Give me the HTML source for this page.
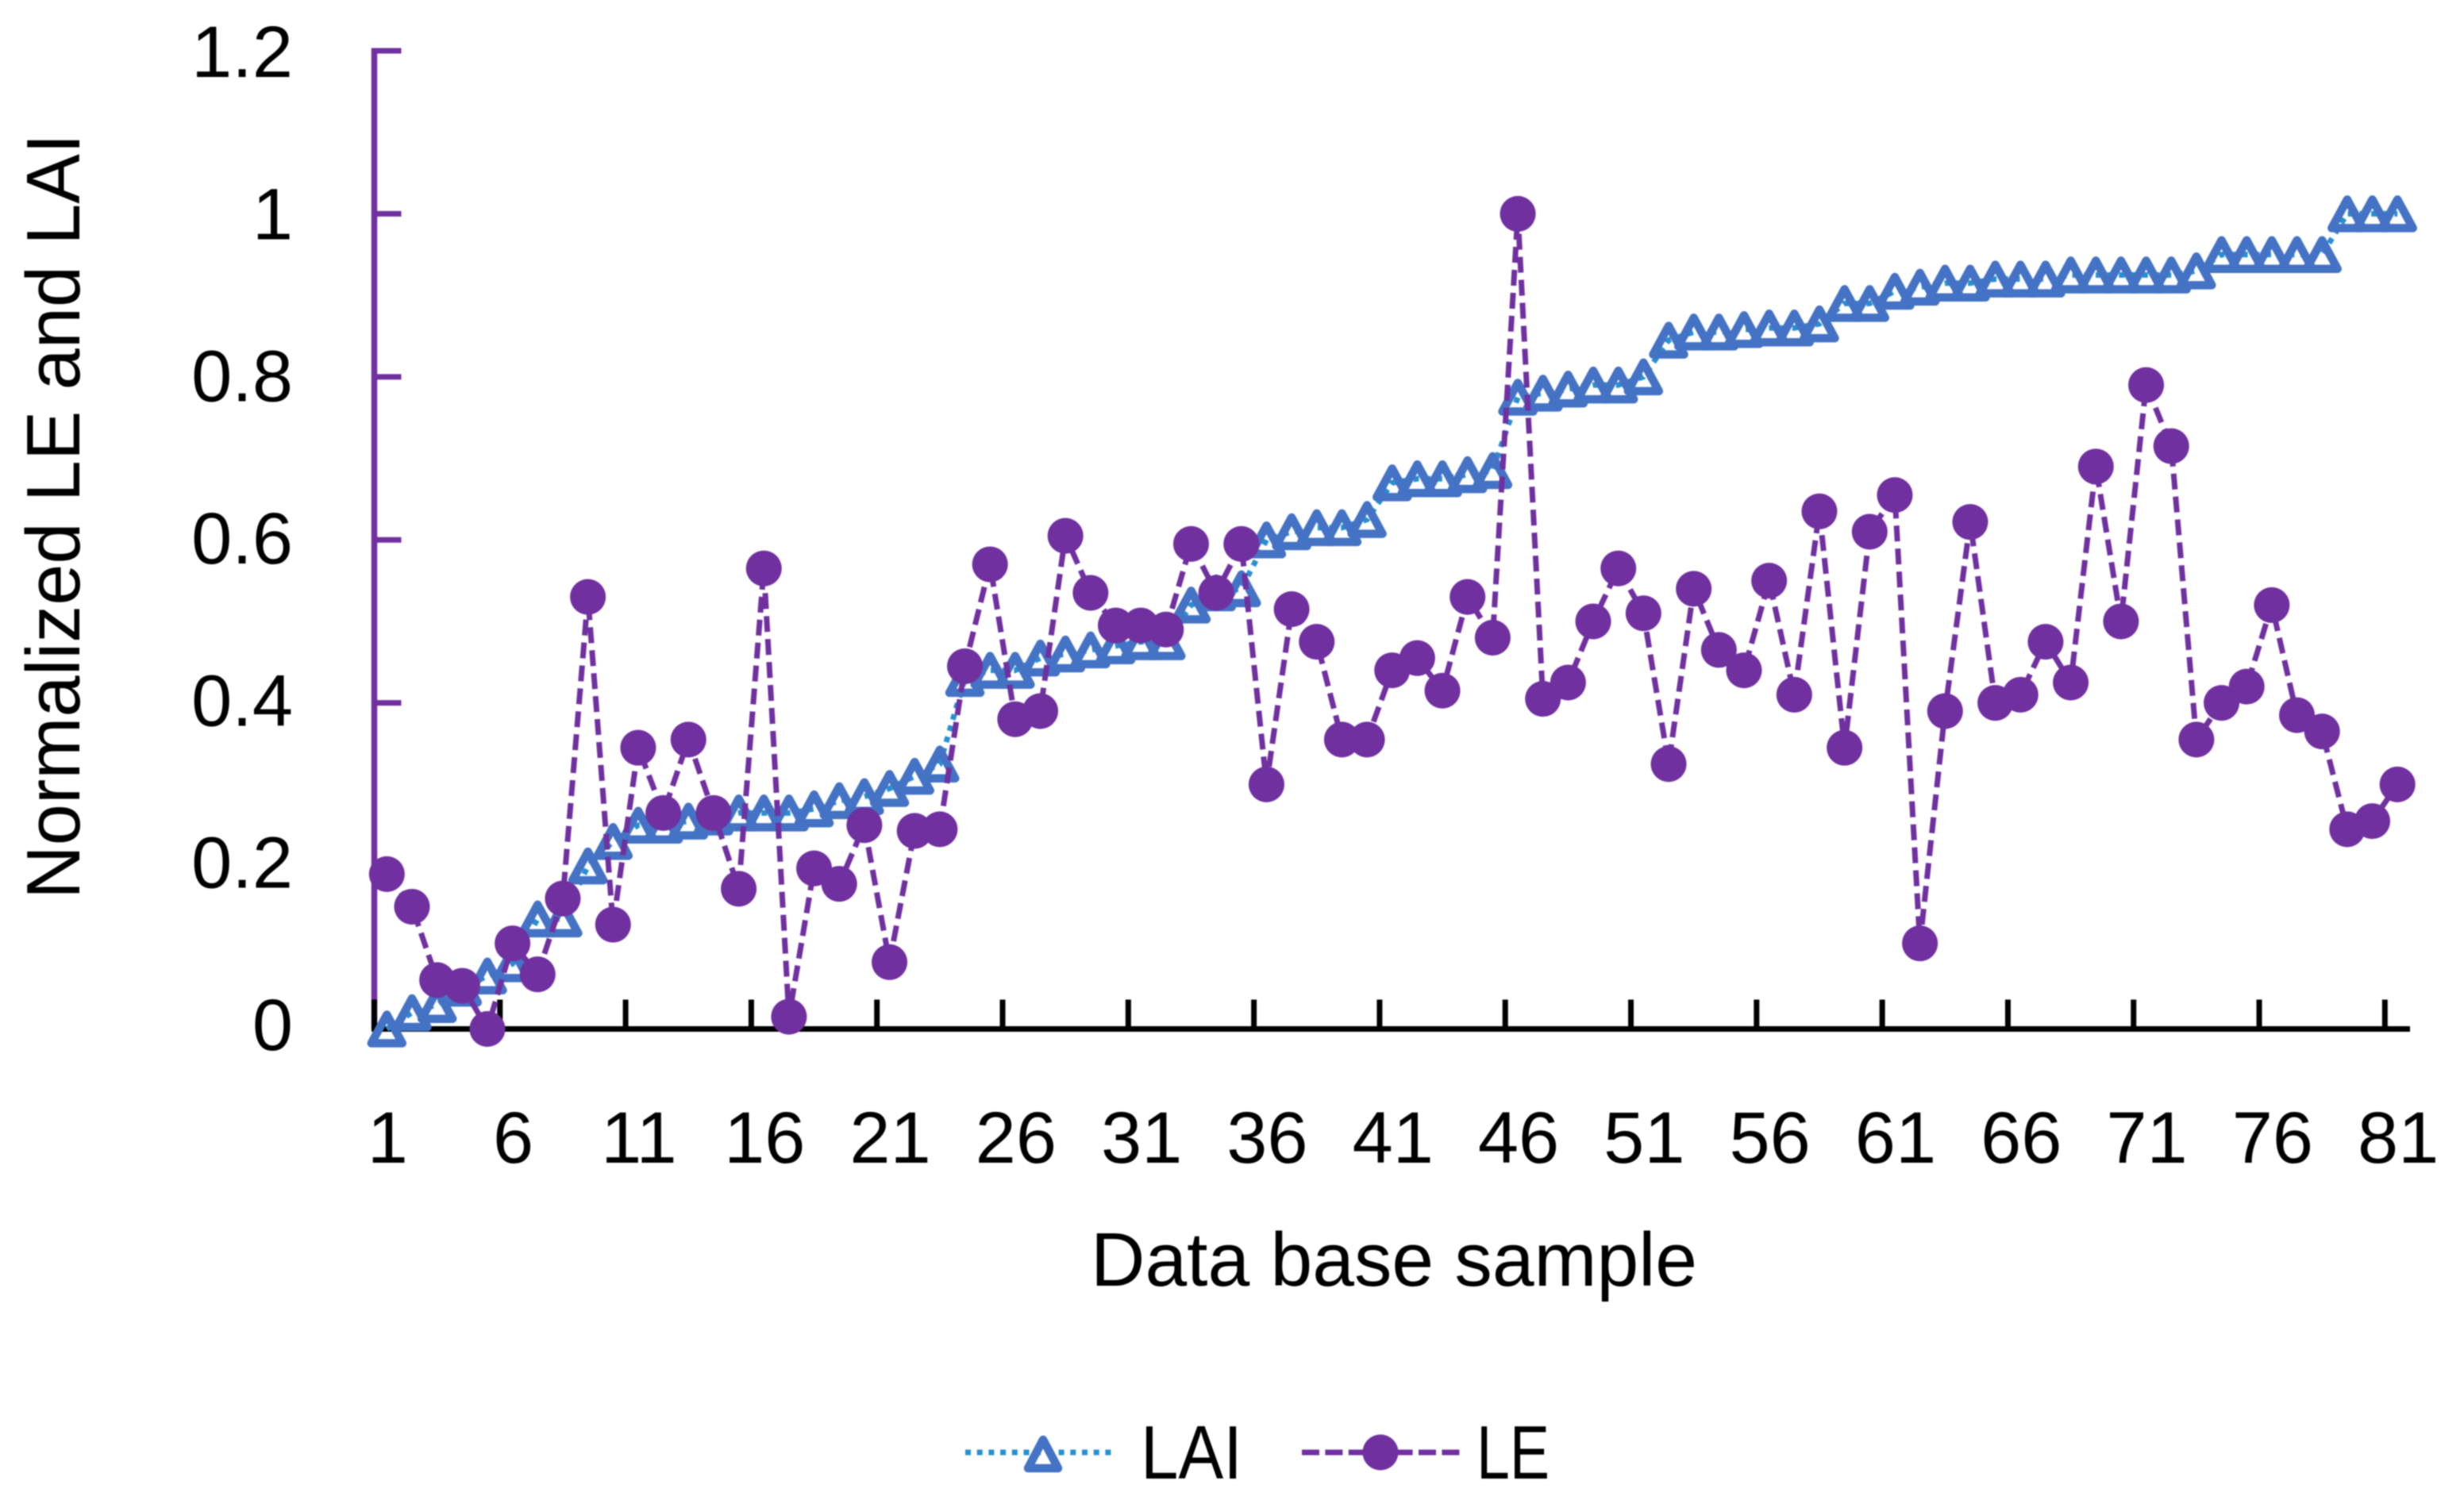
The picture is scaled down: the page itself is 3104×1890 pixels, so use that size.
<!DOCTYPE html>
<html lang="en">
<head>
<meta charset="utf-8">
<title>Normalized LE and LAI</title>
<style>
html,body{margin:0;padding:0;background:#fff;}
#chart{display:block;width:3104px;height:1890px;font-family:"Liberation Sans",sans-serif;fill:#000;filter:blur(0.7px);}
</style>
</head>
<body>
<svg id="chart" xmlns="http://www.w3.org/2000/svg" width="3104" height="1890" viewBox="0 0 3104 1890">
  <g id="axes-layer"></g>
  <g id="lai-layer"></g>
  <g id="le-layer"></g>
  <text transform="translate(100,1133) rotate(-90)" text-anchor="start" font-size="96" textLength="965" lengthAdjust="spacingAndGlyphs">Normalized LE and LAI</text>
  <text x="1374" y="1620" text-anchor="start" font-size="96" textLength="764" lengthAdjust="spacingAndGlyphs">Data base sample</text>
  <g>
    <g>
      <line x1="1216" y1="1830" x2="1401" y2="1830" stroke="#2690D2" stroke-width="7" stroke-dasharray="7 7.7"/>
      <polygon points="1314,1814 1333,1850 1295,1850" fill="none" stroke="#4472C4" stroke-width="10.5" stroke-linejoin="round"/>
      <text x="1437" y="1863" font-size="96" textLength="128" lengthAdjust="spacingAndGlyphs">LAI</text>
    </g>
    <g>
      <line x1="1640" y1="1830" x2="1839" y2="1830" stroke="#7030A0" stroke-width="7" stroke-dasharray="22 7.4"/>
      <circle cx="1739" cy="1830" r="22.5" fill="#7030A0"/>
      <text x="1860" y="1863" font-size="96" textLength="92" lengthAdjust="spacingAndGlyphs">LE</text>
    </g>
  </g>
</svg>
<script>
const yTickLabels = ["0", "0.2", "0.4", "0.6", "0.8", "1", "1.2"];
const xTickLabels = ["1","6","11","16","21","26","31","36","41","46","51","56","61","66","71","76","81"];
const laiValues = [0,0.02,0.03,0.05,0.065,0.08,0.135,0.135,0.2,0.23,0.25,0.25,0.255,0.26,0.265,0.265,0.265,0.27,0.28,0.285,0.295,0.31,0.325,0.43,0.44,0.44,0.455,0.46,0.465,0.47,0.475,0.475,0.52,0.535,0.54,0.6,0.61,0.615,0.615,0.625,0.67,0.675,0.675,0.68,0.685,0.775,0.78,0.785,0.79,0.79,0.8,0.845,0.855,0.855,0.858,0.86,0.86,0.865,0.89,0.89,0.905,0.91,0.915,0.915,0.92,0.92,0.92,0.925,0.925,0.925,0.925,0.925,0.93,0.95,0.95,0.95,0.95,0.95,1,1,1];
const leValues = [0.19,0.15,0.06,0.053,0,0.105,0.067,0.16,0.53,0.128,0.345,0.265,0.355,0.265,0.172,0.565,0.015,0.197,0.178,0.25,0.082,0.243,0.245,0.445,0.57,0.38,0.39,0.605,0.535,0.495,0.495,0.49,0.595,0.535,0.595,0.3,0.515,0.475,0.355,0.355,0.44,0.455,0.415,0.53,0.48,1,0.405,0.425,0.5,0.565,0.51,0.325,0.54,0.465,0.44,0.55,0.41,0.635,0.345,0.61,0.655,0.105,0.39,0.622,0.4,0.41,0.475,0.425,0.69,0.5,0.79,0.715,0.355,0.4,0.42,0.52,0.385,0.365,0.245,0.255,0.3];

const NS = "http://www.w3.org/2000/svg";
const plotLeft = 471.5, plotRight = 3036, plotBottom = 1296.5, plotTop = 64, yMax = 1.2;
const catWidth = (plotRight - plotLeft) / laiValues.length;
const xScale = i => plotLeft + (i + 0.5) * catWidth;
const yScale = v => plotBottom - (v / yMax) * (plotBottom - plotTop);
const yLabelBaseline = v => 1323 - (v / yMax) * 1226;
const make = (tag, attrs) => {
  const el = document.createElementNS(NS, tag);
  for (const k in attrs) el.setAttribute(k, attrs[k]);
  return el;
};

const axes = document.getElementById("axes-layer");
const laiLayer = document.getElementById("lai-layer");
const leLayer = document.getElementById("le-layer");

// y axis
const yAxis = make("line", {x1: plotLeft, x2: plotLeft, y1: plotTop - 3.5, y2: plotBottom, stroke: "#7030A0", "stroke-width": 7.5});


axes.appendChild(yAxis);
yTickLabels.forEach(label => {
  const v = parseFloat(label);
  const y = yScale(v);
  if (v > 0) {
    const t = make("line", {x1: plotLeft, x2: plotLeft + 34, y1: y, y2: y, stroke: "#7030A0", "stroke-width": 7});
    
    
    axes.appendChild(t);
  }
  const txt = make("text", {x: 369, y: yLabelBaseline(v), "text-anchor": "end", "font-size": 92});
  
  
  txt.textContent = label;
  axes.appendChild(txt);
});

// x axis
const xAxis = make("line", {x1: plotLeft - 3.5, x2: plotRight, y1: plotBottom, y2: plotBottom, stroke: "#000", "stroke-width": 7});


axes.appendChild(xAxis);
xTickLabels.forEach(label => {
  const idx = parseInt(label, 10) - 1;
  const tx = xScale(idx) - catWidth / 2;
  const t = make("line", {x1: tx, x2: tx, y1: plotBottom - 37, y2: plotBottom, stroke: "#000", "stroke-width": 7});
  
  
  axes.appendChild(t);
  const txt = make("text", {x: xScale(idx) + 1, y: 1465, "text-anchor": "middle", "font-size": 92});
  
  
  txt.textContent = label;
  axes.appendChild(txt);
});

// LAI series
const laiLine = make("polyline", {
  points: laiValues.map((v, i) => xScale(i) + "," + yScale(v)).join(" "),
  fill: "none", stroke: "#2690D2", "stroke-width": 7, "stroke-dasharray": "7 7.7"
});


laiLayer.appendChild(laiLine);
laiValues.forEach((v, i) => {
  const cx = xScale(i), cy = yScale(v);
  const tri = make("polygon", {
    points: cx + "," + (cy - 18) + " " + (cx + 19.5) + "," + (cy + 18) + " " + (cx - 19.5) + "," + (cy + 18),
    fill: "none", stroke: "#4472C4", "stroke-width": 10.5, "stroke-linejoin": "round"
  });
  
  
  laiLayer.appendChild(tri);
});

// LE series
const leLine = make("polyline", {
  points: leValues.map((v, i) => xScale(i) + "," + yScale(v)).join(" "),
  fill: "none", stroke: "#7030A0", "stroke-width": 7, "stroke-dasharray": "20 9"
});


leLayer.appendChild(leLine);
leValues.forEach((v, i) => {
  const c = make("circle", {cx: xScale(i), cy: yScale(v), r: 22.5, fill: "#7030A0"});
  
  
  leLayer.appendChild(c);
});
</script>
</body>
</html>
